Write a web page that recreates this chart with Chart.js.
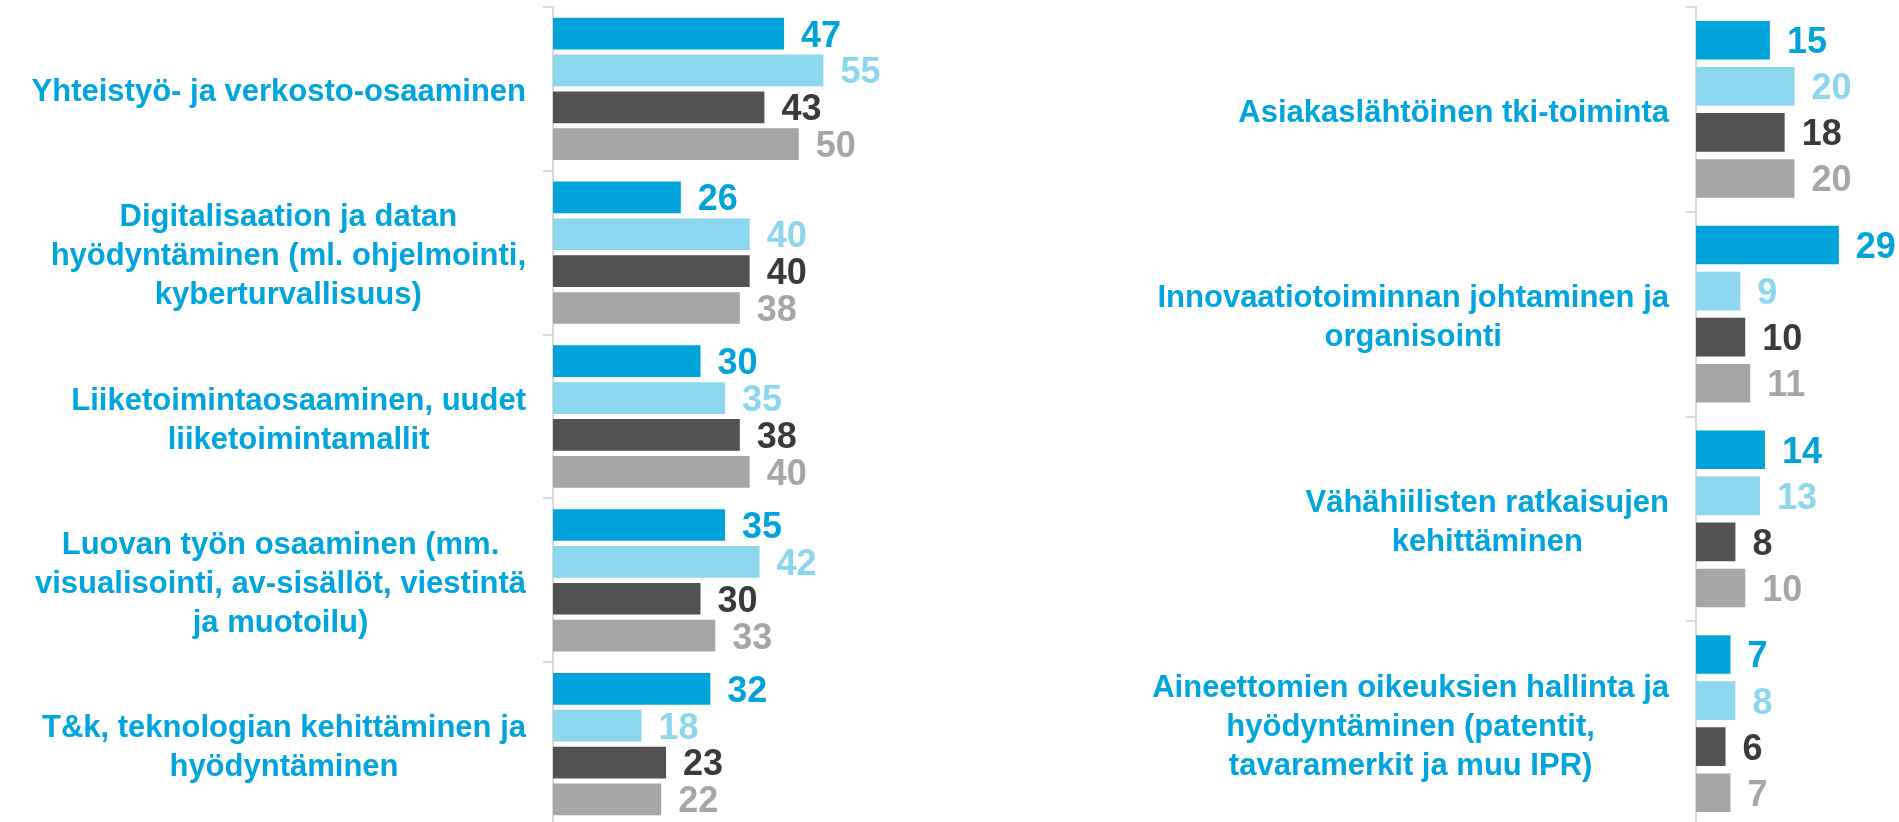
<!DOCTYPE html>
<html>
<head>
<meta charset="utf-8">
<script src="https://cdn.jsdelivr.net/npm/chart.js@4.4.0/dist/chart.umd.min.js"></script>
<style>
    html, body { margin: 0; padding: 0; background: #fff; overflow: hidden; }
    #leftBox { position: absolute; left: 0; top: 0; width: 1000px; height: 834px; }
    #rightBox { position: absolute; left: 1000px; top: 0; width: 899px; height: 834px; }
</style>
</head>
<body>
<div id="leftBox"><canvas id="leftChart"></canvas></div>
<div id="rightBox"><canvas id="rightChart"></canvas></div>
<script>
        // left panel
        const leftCategories = [
            ['Yhteistyö- ja verkosto-osaaminen'],
            ['Digitalisaation ja datan', 'hyödyntäminen (ml. ohjelmointi,', 'kyberturvallisuus)'],
            ['Liiketoimintaosaaminen, uudet', 'liiketoimintamallit'],
            ['Luovan työn osaaminen (mm.', 'visualisointi, av-sisällöt, viestintä', 'ja muotoilu)'],
            ['T&k, teknologian kehittäminen ja', 'hyödyntäminen']
        ];
        const leftSeries1 = [47, 26, 30, 35, 32];
        const leftSeries2 = [55, 40, 35, 42, 18];
        const leftSeries3 = [43, 40, 38, 30, 23];
        const leftSeries4 = [50, 38, 40, 33, 22];

        // right panel
        const rightCategories = [
            ['Asiakaslähtöinen tki-toiminta'],
            ['Innovaatiotoiminnan johtaminen ja', 'organisointi'],
            ['Vähähiilisten ratkaisujen', 'kehittäminen'],
            ['Aineettomien oikeuksien hallinta ja', 'hyödyntäminen (patentit,', 'tavaramerkit ja muu IPR)']
        ];
        const rightSeries1 = [15, 29, 14, 7];
        const rightSeries2 = [20, 9, 13, 8];
        const rightSeries3 = [18, 10, 8, 6];
        const rightSeries4 = [20, 11, 10, 7];

        const barColors = ['#00A3DA', '#8CD6EE', '#525252', '#A6A6A6'];
        const valueColors = ['#00A3DA', '#8CD6EE', '#3A3A3A', '#A6A6A6'];
        const FONT = '"Liberation Sans", Arial, sans-serif';
        const LINE_H = 39;

        // numbers at the end of each bar
        const valueLabels = {
            id: 'valueLabels',
            afterDatasetsDraw(chart) {
                const ctx = chart.ctx;
                ctx.save();
                ctx.font = 'bold 36px ' + FONT;
                ctx.textAlign = 'left';
                ctx.textBaseline = 'middle';
                chart.data.datasets.forEach((ds, i) => {
                    ctx.fillStyle = valueColors[i];
                    chart.getDatasetMeta(i).data.forEach((bar, j) => {
                        ctx.fillText(ds.data[j], bar.x + 17, bar.y + 3);
                    });
                });
                ctx.restore();
            }
        };

        // category names: block right-aligned to the axis, lines centred inside the block
        const categoryLabels = {
            id: 'categoryLabels',
            afterDraw(chart) {
                const scale = chart.scales.y;
                const ctx = chart.ctx;
                ctx.save();
                ctx.font = 'bold 31px ' + FONT;
                ctx.fillStyle = '#00A5DE';
                ctx.textAlign = 'center';
                ctx.textBaseline = 'middle';
                chart.data.labels.forEach((lines, i) => {
                    const widest = Math.max(...lines.map(l => ctx.measureText(l).width));
                    const cx = scale.right - 27 - widest / 2;
                    const cy = scale.getPixelForTick(i) + 4;
                    const top = cy - (lines.length - 1) * LINE_H / 2;
                    lines.forEach((l, k) => ctx.fillText(l, cx, top + k * LINE_H));
                });
                ctx.restore();
            }
        };

        function makeChart(id, labels, series, axisWidth, xMax, padRight, catPct, barPct) {
            const ctx = document.getElementById(id).getContext('2d');
            return new Chart(ctx, {
                type: 'bar',
                data: {
                    labels: labels,
                    datasets: series.map((s, i) => ({
                        data: s,
                        backgroundColor: barColors[i],
                        categoryPercentage: catPct,
                        barPercentage: barPct
                    }))
                },
                options: {
                    indexAxis: 'y',
                    responsive: true,
                    maintainAspectRatio: false,
                    devicePixelRatio: 1,
                    animation: false,
                    layout: { padding: { top: 7, bottom: 8, left: 0, right: padRight } },
                    plugins: { legend: { display: false }, tooltip: { enabled: false } },
                    scales: {
                        x: { type: 'linear', min: 0, max: xMax, display: false },
                        y: {
                            type: 'category',
                            ticks: { display: false, autoSkip: false },
                            grid: {
                                offset: true,
                                drawOnChartArea: false,
                                drawTicks: true,
                                tickLength: 10,
                                color: '#D9D9D9',
                                lineWidth: 2
                            },
                            border: { color: '#D9D9D9', width: 2 },
                            afterFit(scale) { scale.width = axisWidth; }
                        }
                    }
                },
                plugins: [valueLabels, categoryLabels]
            });
        }

        makeChart('leftChart', leftCategories,
            [leftSeries1, leftSeries2, leftSeries3, leftSeries4],
            553, 60, 152, 0.9, 0.86);

        makeChart('rightChart', rightCategories,
            [rightSeries1, rightSeries2, rightSeries3, rightSeries4],
            696, 40, 6, 0.9, 0.84);
</script>
</body>
</html>
